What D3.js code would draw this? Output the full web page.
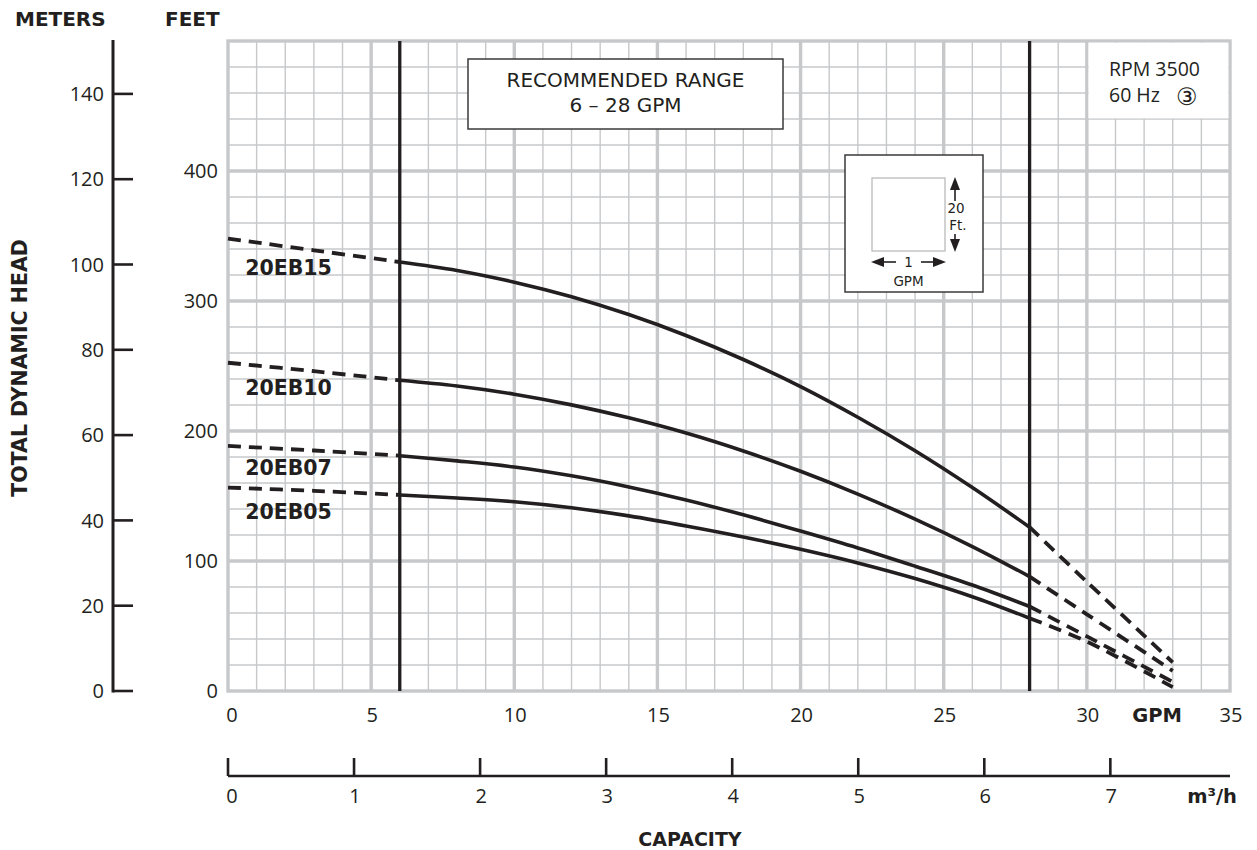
<!DOCTYPE html>
<html>
<head>
<meta charset="utf-8">
<script src="https://cdn.jsdelivr.net/npm/d3@7"></script>
<style>
  body { margin: 0; background: #fff; }
  svg { display: block; font-family: "Open Sans", Lato, sans-serif; }
  .bold { font-family: "DejaVu Sans", sans-serif; font-weight: bold; }
  .dv { font-family: "DejaVu Sans", sans-serif; }
</style>
</head>
<body>
<svg id="chart" width="1257" height="850"></svg>
<script>
// pump curves, head in feet read at each flow (GPM)
const flow = [0, 3, 6, 8, 10, 12, 14, 16, 18, 20, 22, 24, 26, 28, 30, 33];
const head20EB15 = [348, 339, 330, 323.5, 314.5, 303.3, 289.6, 273.5, 255, 234.2, 210.6, 184.8, 156.5, 126, 84, 22];
const head20EB10 = [252.5, 246, 239, 234.6, 228.3, 220.1, 210.1, 198.4, 184.6, 169, 151.5, 132.2, 111.1, 88, 59, 15.5];
const head20EB07 = [188.5, 185, 181, 177, 172.3, 165.5, 157, 147, 135.5, 123, 110, 96, 81.5, 65, 42, 7];
const head20EB05 = [156.5, 154, 150.8, 148.5, 145.6, 141, 134.7, 127, 118.5, 109, 98.5, 86.5, 72.5, 56, 38, 3];
const models = ['20EB15', '20EB10', '20EB07', '20EB05'];
const labelHead = [320, 228, 166, 132];
const recommended = [6, 28];

const gpmTicks = [0, 5, 10, 15, 20, 25, 30, 35];
const m3hTicks = [0, 1, 2, 3, 4, 5, 6, 7];
const feetTicks = [0, 100, 200, 300, 400];
const meterTicks = [0, 20, 40, 60, 80, 100, 120, 140];

const ink = '#231f20';
const gridColor = '#c7c8ca';
const FT_PER_M = 3.2808;
const GPM_PER_M3H = 4.4029;

const svg = d3.select('#chart');

const x = d3.scaleLinear().domain([0, 35]).range([228, 1230]);
const y = d3.scaleLinear().domain([0, 500]).range([691, 41]);
const yM = d3.scaleLinear().domain([0, 500 / FT_PER_M]).range([691, 41]);
const xM = d3.scaleLinear().domain([0, 35 / GPM_PER_M3H]).range([228, 1230]);

// grid
const grid = svg.append('g');
grid.selectAll('.v').data(d3.range(1, 35)).enter().append('line')
  .attr('x1', d => x(d)).attr('x2', d => x(d)).attr('y1', y(0)).attr('y2', y(500))
  .attr('stroke', gridColor).attr('stroke-width', d => d % 5 === 0 ? 3.4 : 1.4);
grid.selectAll('.h').data(d3.range(20, 500, 20)).enter().append('line')
  .attr('y1', d => y(d)).attr('y2', d => y(d)).attr('x1', x(0)).attr('x2', x(35))
  .attr('stroke', gridColor).attr('stroke-width', d => d % 100 === 0 ? 3.4 : 1.4);
grid.append('rect')
  .attr('x', x(0)).attr('y', y(500)).attr('width', x(35) - x(0)).attr('height', y(0) - y(500))
  .attr('fill', 'none').attr('stroke', gridColor).attr('stroke-width', 3.4);

// blank patch behind the rpm note
svg.append('rect')
  .attr('x', x(30) + 1.7).attr('y', y(500) + 1.7)
  .attr('width', x(35) - x(30) - 3.4).attr('height', y(440) - y(500) - 2.4)
  .attr('fill', '#fff');

// recommended range box
svg.append('rect').attr('x', 468).attr('y', 59).attr('width', 315).attr('height', 70)
  .attr('fill', '#fff').attr('stroke', '#3a3a3a').attr('stroke-width', 1.5);
svg.append('text').attr('class', 'dv').attr('x', 625.5).attr('y', 87).attr('text-anchor', 'middle')
  .style('font-size', '20px').attr('fill', ink).text('RECOMMENDED RANGE');
svg.append('text').attr('class', 'dv').attr('x', 625.5).attr('y', 112).attr('text-anchor', 'middle')
  .style('font-size', '20px').attr('fill', ink).text('6 – 28 GPM');

// rpm note
svg.append('text').attr('x', 1109).attr('y', 76).style('font-size', '19.5px').attr('fill', ink).text('RPM 3500');
const hz = svg.append('text').attr('x', 1109).attr('y', 102).style('font-size', '19.5px').attr('fill', ink);
hz.append('tspan').text('60 Hz');
hz.append('tspan').attr('class', 'dv').attr('x', 1176).attr('y', 105)
  .style('font-size', '24px').text('\u2462');

// scale inset
const inset = svg.append('g');
inset.append('rect').attr('x', 845).attr('y', 155).attr('width', 138).attr('height', 137)
  .attr('fill', '#fff').attr('stroke', '#3a3a3a').attr('stroke-width', 1.5);
inset.append('rect').attr('x', 872).attr('y', 178).attr('width', 73).attr('height', 73)
  .attr('fill', 'none').attr('stroke', '#b5b5b5').attr('stroke-width', 1.2);
const arrow = (x1, y1, x2, y2) => {
  const a = Math.atan2(y2 - y1, x2 - x1);
  const hx = x2 - 13 * Math.cos(a), hy = y2 - 13 * Math.sin(a);
  inset.append('line').attr('x1', x1).attr('y1', y1).attr('x2', hx).attr('y2', hy)
    .attr('stroke', ink).attr('stroke-width', 1.6);
  const px = -Math.sin(a) * 5, py = Math.cos(a) * 5;
  inset.append('path')
    .attr('d', `M${x2},${y2}L${hx + px},${hy + py}L${hx - px},${hy - py}Z`).attr('fill', ink);
};
arrow(896, 262, 871, 262);
arrow(921, 262, 946, 262);
arrow(955, 201, 955, 177);
arrow(955, 234, 955, 252);
inset.append('text').attr('class', 'dv').attr('x', 908.5).attr('y', 267).attr('text-anchor', 'middle')
  .style('font-size', '13.5px').attr('fill', ink).text('1');
inset.append('text').attr('class', 'dv').attr('x', 908.5).attr('y', 286).attr('text-anchor', 'middle')
  .style('font-size', '13.5px').attr('fill', ink).text('GPM');
inset.append('text').attr('class', 'dv').attr('x', 956).attr('y', 213).attr('text-anchor', 'middle')
  .style('font-size', '13.5px').attr('fill', ink).text('20');
inset.append('text').attr('class', 'dv').attr('x', 958).attr('y', 230).attr('text-anchor', 'middle')
  .style('font-size', '13.5px').attr('fill', ink).text('Ft.');

// recommended range limits
svg.selectAll('.rec').data(recommended).enter().append('line')
  .attr('x1', d => x(d)).attr('x2', d => x(d)).attr('y1', y(500)).attr('y2', y(0))
  .attr('stroke', ink).attr('stroke-width', 3.3);

// curves
const heads = [head20EB15, head20EB10, head20EB07, head20EB05];
const line = d3.line().x(d => x(d[0])).y(d => y(d[1])).curve(d3.curveCatmullRom);
heads.forEach((h, i) => {
  const pts = flow.map((f, j) => [f, h[j]]);
  const left = pts.filter(p => p[0] <= recommended[0]);
  const mid = pts.filter(p => p[0] >= recommended[0] && p[0] <= recommended[1]);
  const right = pts.filter(p => p[0] >= recommended[1]);
  svg.append('path').attr('d', line(mid)).attr('fill', 'none')
    .attr('stroke', ink).attr('stroke-width', 3.6);
  [left, right].forEach(seg => {
    svg.append('path').attr('d', line(seg)).attr('fill', 'none')
      .attr('stroke', ink).attr('stroke-width', 3.8).attr('stroke-dasharray', '13,8');
  });
  svg.append('text').attr('class', 'bold').attr('x', x(0.6)).attr('y', y(labelHead[i]))
    .style('font-size', '20.5px').attr('fill', ink).text(models[i]);
});

// feet labels
svg.selectAll('.ft').data(feetTicks).enter().append('text')
  .attr('x', 218).attr('y', d => y(d)).attr('dy', '0.36em').attr('text-anchor', 'end')
  .style('font-size', '20px').attr('fill', ink).text(d => d);

// meters axis
svg.append('line').attr('x1', 113).attr('x2', 113).attr('y1', 40).attr('y2', 692.5)
  .attr('stroke', ink).attr('stroke-width', 3);
svg.selectAll('.mt').data(meterTicks).enter().append('line')
  .attr('x1', 113).attr('x2', 133).attr('y1', d => yM(d)).attr('y2', d => yM(d))
  .attr('stroke', ink).attr('stroke-width', 2.6);
svg.selectAll('.ml').data(meterTicks).enter().append('text')
  .attr('x', 104).attr('y', d => yM(d)).attr('dy', '0.36em').attr('text-anchor', 'end')
  .style('font-size', '20px').attr('fill', ink).text(d => d);

// gpm labels
svg.selectAll('.gl').data(gpmTicks).enter().append('text')
  .attr('x', d => x(d) + (d === 0 ? 4 : 1)).attr('y', 722).attr('text-anchor', 'middle')
  .style('font-size', '20px').attr('fill', ink).text(d => d);
svg.append('text').attr('class', 'bold').attr('x', 1157).attr('y', 722).attr('text-anchor', 'middle')
  .style('font-size', '19.5px').attr('fill', ink).text('GPM');

// m3/h axis
svg.append('line').attr('x1', xM(0)).attr('x2', x(35)).attr('y1', 776).attr('y2', 776)
  .attr('stroke', ink).attr('stroke-width', 2.6);
svg.selectAll('.xt').data(m3hTicks).enter().append('line')
  .attr('x1', d => xM(d)).attr('x2', d => xM(d)).attr('y1', 776).attr('y2', 758)
  .attr('stroke', ink).attr('stroke-width', 2.6);
svg.selectAll('.xl').data(m3hTicks).enter().append('text')
  .attr('x', d => xM(d) + (d === 0 ? 4 : 1)).attr('y', 803).attr('text-anchor', 'middle')
  .style('font-size', '20px').attr('fill', ink).text(d => d);
svg.append('text').attr('class', 'bold').attr('x', 1237).attr('y', 803).attr('text-anchor', 'end')
  .style('font-size', '19.5px').attr('fill', ink).text('m³/h');

// titles
svg.append('text').attr('class', 'bold').attr('x', 690).attr('y', 846).attr('text-anchor', 'middle')
  .style('font-size', '19px').attr('fill', ink).text('CAPACITY');
svg.append('text').attr('class', 'bold').attr('x', 15).attr('y', 26)
  .style('font-size', '20px').attr('fill', ink).text('METERS');
svg.append('text').attr('class', 'bold').attr('x', 165).attr('y', 26)
  .style('font-size', '20px').attr('fill', ink).text('FEET');
svg.append('text').attr('class', 'bold').attr('transform', 'translate(27,368) rotate(-90)')
  .attr('text-anchor', 'middle')
  .style('font-size', '20.5px').attr('fill', ink).text('TOTAL DYNAMIC HEAD');
</script>
</body>
</html>
